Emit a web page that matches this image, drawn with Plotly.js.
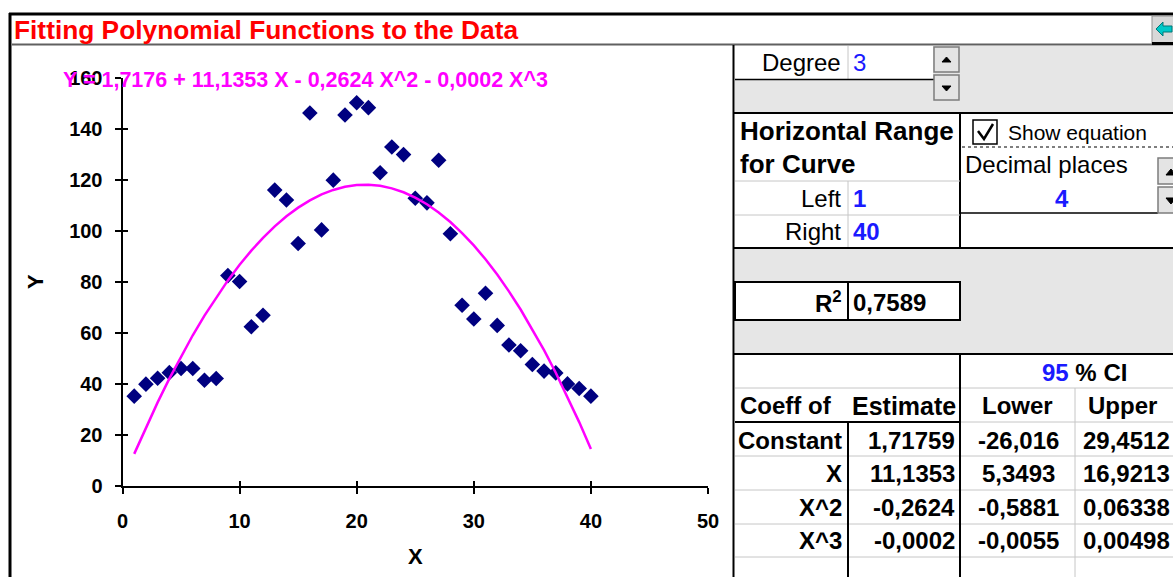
<!DOCTYPE html>
<html><head><meta charset="utf-8">
<script src="https://cdn.plot.ly/plotly-3.0.1.min.js"></script>
<style>html,body{margin:0;padding:0;background:#fff;overflow:hidden}</style>
</head><body><div id="chart" style="width:1173px;height:577px"></div>
<script>
// ---- data ----
const xValues = [1,2,3,4,5,6,7,8,9,10,11,12,13,14,15,16,17,18,19,20,21,22,23,24,25,26,27,28,29,30,31,32,33,34,35,36,37,38,39,40];
const yValues = [35.2,39.9,42.2,44.4,46.0,46.0,41.4,42.1,82.4,80.1,62.4,66.9,115.9,112.0,95.0,146.1,100.3,119.8,145.3,150.1,148.2,122.7,132.8,129.8,112.7,110.9,127.6,98.8,70.8,65.4,75.5,62.9,55.2,53.0,47.6,45.0,44.3,40.0,38.2,35.2];
const coefficients = [1.7176, 11.1353, -0.2624, -0.0002];   // fitted cubic (constant, X, X^2, X^3)
const equationText = "Y = 1,7176 + 11,1353 X - 0,2624 X^2 - 0,0002 X^3";
const coeffNames = ["Constant", "X", "X^2", "X^3"];
const estimates = ["1,71759", "11,1353", "-0,2624", "-0,0002"];
const lowerCI = ["-26,016", "5,3493", "-0,5881", "-0,0055"];
const upperCI = ["29,4512", "16,9213", "0,06338", "0,00498"];
const xTicks = [0, 10, 20, 30, 40, 50];
const yTicks = [0, 20, 40, 60, 80, 100, 120, 140, 160];
const degree = "3", leftVal = "1", rightVal = "40", decimals = "4", rSquared = "0,7589", ciLevel = "95";

// fitted curve evaluated from the coefficients
const curveY = xValues.map(x => coefficients.reduce((s, c, i) => s + c * Math.pow(x, i), 0));

const W = 1173, H = 577;
const px = p => p / W, py = p => 1 - p / H;
const TF = "Liberation Sans, Arial, sans-serif";

const shapes = [];
function rect(x0, y0, x1, y1, fill, lc, lw, layer) {
  shapes.push({type: 'rect', xref: 'paper', yref: 'paper', x0: px(x0), x1: px(x1), y0: py(y1), y1: py(y0),
    fillcolor: fill || 'rgba(0,0,0,0)', line: {color: lc || 'rgba(0,0,0,0)', width: lw || 0}, layer: layer || 'above'});
}
function line(x0, y0, x1, y1, color, width, dash) {
  shapes.push({type: 'line', xref: 'paper', yref: 'paper', x0: px(x0), x1: px(x1), y0: py(y0), y1: py(y1),
    line: {color: color, width: width, dash: dash || 'solid'}, layer: 'above'});
}
function path(pts, fill, lc, lw) {
  const d = pts.map((p, i) => (i ? 'L' : 'M') + px(p[0]).toFixed(5) + ',' + py(p[1]).toFixed(5)).join(' ') + (fill ? ' Z' : '');
  shapes.push({type: 'path', xref: 'paper', yref: 'paper', path: d, fillcolor: fill || 'rgba(0,0,0,0)',
    line: {color: lc, width: lw}, layer: 'above'});
}
const ann = [];
function txt(text, x, y, o) {
  o = o || {};
  ann.push({xref: 'paper', yref: 'paper', x: px(x), y: py(y), text: text, showarrow: false,
    xanchor: o.xa || 'left', yanchor: 'middle', borderpad: 0,
    font: {family: o.family || TF, size: o.size || 24, color: o.color || '#000', weight: o.bold ? 'bold' : 'normal'}});
}
const GRAY = '#e6e6e6', GRID = '#c6c6c6', BLUE = '#1a1aff';

// frame
line(9, 14, 1173, 14, '#000', 3);
line(10, 13, 10, 577, '#000', 3);
line(12, 44.5, 1173, 44.5, '#606060', 2);
line(733.5, 45, 733.5, 577, '#000', 2);
// top-right button
rect(1152, 16, 1175, 44, '#d8d8d8', '#909090', 1);
line(1152, 43.5, 1173, 43.5, '#000', 3);
path([[1156, 29], [1163, 22], [1163, 26], [1172, 26], [1172, 32], [1163, 32], [1163, 36]], '#00c8c8', '#007878', 1);

// degree block
rect(735, 46, 1173, 113, GRAY, null, 0, 'below');
rect(735, 46, 933, 79, '#fff', null, 0, 'below');
line(848, 46, 848, 79, GRID, 1);
line(735, 79.5, 935, 79.5, '#000', 1.5);
line(733, 113, 1173, 113, '#000', 2);
rect(934, 47, 959, 72, '#e4e4e4', '#7c7c7c', 1.5);
rect(934, 75, 959, 100, '#e4e4e4', '#7c7c7c', 1.5);
path([[942, 62], [951, 62], [946.5, 57]], '#000', '#000', 1);
path([[942, 86], [951, 86], [946.5, 91]], '#000', '#000', 1);

// horizontal range block
line(960, 113, 960, 248, '#000', 2);
line(735, 181, 960, 181, GRID, 1);
line(735, 215, 960, 215, GRID, 1);
line(848, 181, 848, 248, GRID, 1);
rect(973, 120, 997, 144, '#fff', '#000', 1.5);
path([[978, 131], [984, 139], [993, 124]], null, '#000', 2.5);
line(962, 147, 1173, 147, '#555', 1.5, 'dot');
line(960, 213, 1158, 213, '#000', 1.5);
rect(1158, 158, 1182, 184, '#e4e4e4', '#7c7c7c', 1.5);
rect(1158, 187, 1182, 213, '#e4e4e4', '#7c7c7c', 1.5);
path([[1166, 175], [1176, 175], [1171, 169]], '#000', '#000', 1);
path([[1166, 198], [1176, 198], [1171, 204]], '#000', '#000', 1);

// R squared block
line(733, 248, 1173, 248, '#000', 2);
rect(735, 249, 1173, 354, GRAY, null, 0, 'below');
rect(735, 282, 960, 320, '#fff', '#000', 2);
line(848, 282, 848, 320, '#000', 2);
line(733, 354, 1173, 354, '#000', 2);

// coefficient table
line(735, 388, 1173, 388, GRID, 1);
line(735, 422, 960, 422, '#000', 2);
line(960, 422, 1173, 422, GRID, 1);
[456, 490, 524, 557].forEach(y => line(735, y, 1173, y, GRID, 1));
line(960, 354, 960, 577, '#000', 2);
line(848, 422, 848, 577, '#000', 2);
line(1075, 388, 1075, 577, GRID, 1);

// table texts
txt('Degree', 842, 63, {xa: 'right'});
txt(degree, 852, 63, {color: BLUE});
txt('Horizontal Range', 739, 131, {bold: true, size: 26});
txt('for Curve', 739, 164, {bold: true, size: 26});
txt('Show equation', 1007, 132, {size: 21});
txt('Decimal places', 964, 164);
txt('Left', 842, 198, {xa: 'right'});
txt(leftVal, 852, 198, {color: BLUE, bold: true});
txt(decimals, 1062, 198, {xa: 'center', color: BLUE, bold: true});
txt('Right', 842, 232, {xa: 'right'});
txt(rightVal, 852, 232, {color: BLUE, bold: true});
txt('R<sup>2</sup>', 843, 302, {xa: 'right', bold: true});
txt(rSquared, 852, 302, {bold: true});
txt('<span style="color:' + BLUE + '">' + ciLevel + '</span> % CI', 1084, 372, {xa: 'center', bold: true});
txt('Coeff of', 739, 406, {bold: true});
txt('Estimate', 851, 406, {bold: true, size: 25});
txt('Lower', 1017, 406, {xa: 'center', bold: true});
txt('Upper', 1122, 406, {xa: 'center', bold: true});
const rowY = [440, 473, 507, 540];
coeffNames.forEach((n, i) => {
  txt(n, 843, rowY[i], {xa: 'right', bold: true});
  txt(estimates[i], 956, rowY[i], {xa: 'right', bold: true});
  txt(lowerCI[i], 1018, rowY[i], {xa: 'center', bold: true});
  txt(upperCI[i], 1082, rowY[i], {bold: true});
});

// trendline label
txt(equationText, 62, 80, {size: 21.5, color: '#ff00ff', bold: true});

const tickFont = {family: TF, size: 20, color: '#000', weight: 'bold'};
const xDom = [px(122.5), px(708)], yDom = [py(486), py(77.5)];

const traces = [
  {x: xValues, y: yValues, type: 'scatter', mode: 'markers', name: 'Data',
   marker: {symbol: 'diamond', size: 12, color: '#000080'}, showlegend: false},
  {x: xValues, y: curveY, type: 'scatter', mode: 'lines', name: 'Polynomial fit',
   line: {color: '#ff00ff', width: 2.5}, showlegend: false},
  {x: [], y: [], type: 'scatter', xaxis: 'x2', yaxis: 'y2', showlegend: false, hoverinfo: 'skip'}
];

const layout = {
  width: W, height: H, margin: {l: 0, r: 0, t: 0, b: 0},
  paper_bgcolor: '#fff', plot_bgcolor: '#fff', showlegend: false,
  title: {text: 'Fitting Polynomial Functions to the Data', x: px(14), xanchor: 'left', xref: 'paper',
          y: py(30), yanchor: 'middle', yref: 'paper',
          font: {family: TF, size: 26.3, color: '#ff0000', weight: 'bold'}},
  xaxis: {domain: xDom, range: [0, 50], tickvals: xTicks, showgrid: false, zeroline: false,
          showline: true, linecolor: '#000', linewidth: 2, ticks: 'outside', ticklen: 6, tickwidth: 2,
          tickcolor: '#000', tickfont: tickFont, ticklabelstandoff: 10, anchor: 'y', fixedrange: true,
          title: {text: 'X', font: {family: TF, size: 22, color: '#000', weight: 'bold'}, standoff: 18}},
  yaxis: {domain: yDom, range: [0, 160], tickvals: yTicks, showgrid: false, zeroline: false,
          showline: true, linecolor: '#000', linewidth: 2, ticks: 'outside', ticklen: 6, tickwidth: 2,
          tickcolor: '#000', tickfont: tickFont, ticklabelstandoff: 8, anchor: 'x', fixedrange: true,
          title: {text: 'Y', font: {family: TF, size: 22, color: '#000', weight: 'bold'}, standoff: 19}},
  xaxis2: {domain: xDom, range: [0, 50], tickvals: xTicks, overlaying: 'x', anchor: 'y', side: 'bottom',
           showgrid: false, zeroline: false, showline: false, ticks: 'inside', ticklen: 5, tickwidth: 2,
           tickcolor: '#000', showticklabels: false, fixedrange: true},
  yaxis2: {domain: yDom, range: [0, 160], tickvals: yTicks, overlaying: 'y', anchor: 'x', side: 'left',
           showgrid: false, zeroline: false, showline: false, ticks: 'inside', ticklen: 5, tickwidth: 2,
           tickcolor: '#000', showticklabels: false, fixedrange: true},
  shapes: shapes, annotations: ann
};

Plotly.newPlot('chart', traces, layout, {staticPlot: true, displayModeBar: false});
</script></body></html>
